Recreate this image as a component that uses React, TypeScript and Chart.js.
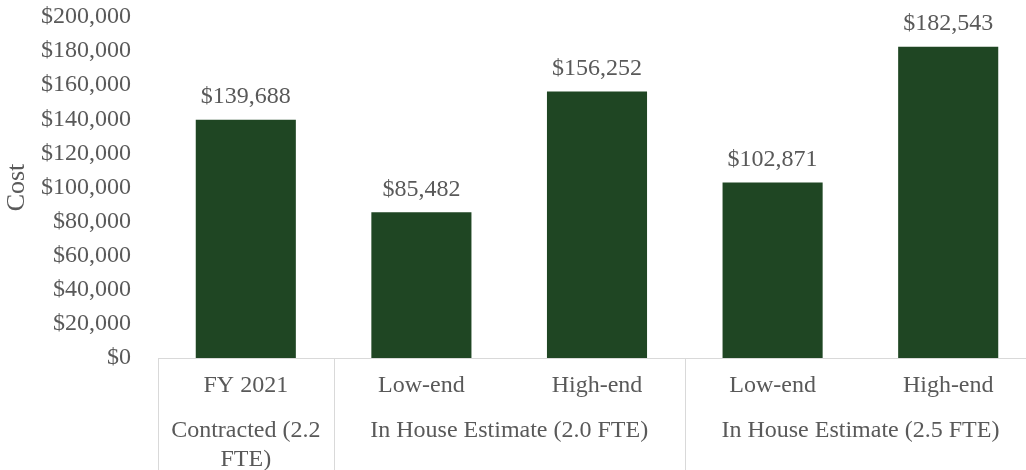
import React, { useEffect, useRef } from "react";
import { Chart, registerables } from "chart.js";

Chart.register(...registerables);

const categories = ["FY 2021", "Low-end", "High-end", "Low-end", "High-end"];
const groupLabels = [["Contracted (2.2", "FTE)"], ["In House Estimate (2.0 FTE)"], ["In House Estimate (2.5 FTE)"]];
const groupSpans = [[0, 0], [1, 2], [3, 4]];
const costs = [139688, 85482, 156252, 102871, 182543];
const yTicks = { min: 0, max: 200000, step: 20000 };

const FONT = "'Liberation Serif', 'Times New Roman', serif";
const FS = 24;
const TEXT = "#595959";
const LINE = "#D9D9D9";
const BAR = "#1F4623";

const money = (v: number) => "$" + v.toLocaleString("en-US");

const overlay = {
  id: "overlay",
  afterDatasetsDraw(chart: any) {
    const ctx = chart.ctx;
    const meta = chart.getDatasetMeta(0);
    ctx.save();
    ctx.font = `${FS}px ${FONT}`;
    ctx.fillStyle = TEXT;
    ctx.textAlign = "center";
    ctx.textBaseline = "middle";
    meta.data.forEach((bar: any, i: number) => {
      ctx.fillText(money(costs[i]), bar.x, bar.y - 23);
    });
    ctx.restore();
  },
  afterDraw(chart: any) {
    const ctx = chart.ctx;
    const x = chart.scales.x;
    const area = chart.chartArea;
    const half = (x.getPixelForValue(1) - x.getPixelForValue(0)) / 2;
    ctx.save();
    ctx.strokeStyle = LINE;
    ctx.lineWidth = 1;
    ctx.beginPath();
    ctx.moveTo(area.left, Math.round(area.bottom) + 0.5);
    ctx.lineTo(area.right, Math.round(area.bottom) + 0.5);
    ctx.stroke();
    const seps = [x.getPixelForValue(0) - half];
    groupSpans.forEach((s) => seps.push(x.getPixelForValue(s[1]) + half));
    seps.forEach((px) => {
      ctx.beginPath();
      ctx.moveTo(Math.round(px) + 0.5, area.bottom);
      ctx.lineTo(Math.round(px) + 0.5, chart.height);
      ctx.stroke();
    });
    ctx.font = `${FS}px ${FONT}`;
    ctx.fillStyle = TEXT;
    ctx.textAlign = "center";
    ctx.textBaseline = "middle";
    groupSpans.forEach((s, gi) => {
      const cx = (x.getPixelForValue(s[0]) + x.getPixelForValue(s[1])) / 2;
      groupLabels[gi].forEach((line, li) => {
        ctx.fillText(line, cx, area.bottom + 73 + li * 29);
      });
    });
    ctx.restore();
  },
};

export default function App() {
  const ref = useRef<HTMLCanvasElement>(null);
  useEffect(() => {
    const chart = new Chart(ref.current!, {
      type: "bar",
      data: {
        labels: categories,
        datasets: [
          {
            data: costs,
            backgroundColor: BAR,
            barPercentage: 0.57,
            categoryPercentage: 1,
          },
        ],
      },
      options: {
        animation: false,
        responsive: false,
        maintainAspectRatio: false,
        layout: { padding: { top: 17, right: 0, left: 0, bottom: 0 } },
        plugins: { legend: { display: false }, tooltip: { enabled: false } },
        scales: {
          x: {
            grid: { display: false, drawTicks: false },
            border: { display: false },
            ticks: { color: TEXT, font: { family: FONT, size: FS }, padding: 13, maxRotation: 0, autoSkip: false },
            afterFit: (s: any) => { s.height = 112; s.paddingLeft = 0; s.paddingRight = 0; },
          },
          y: {
            min: yTicks.min,
            max: yTicks.max,
            grid: { display: false, drawTicks: false },
            border: { display: false },
            ticks: {
              stepSize: yTicks.step,
              autoSkip: false,
              color: TEXT,
              font: { family: FONT, size: FS },
              padding: 27,
              callback: (v: any) => money(Number(v)),
            },
            title: { display: true, text: "Cost", color: TEXT, font: { family: FONT, size: 26 }, padding: { top: 2, bottom: 0 } },
            afterFit: (s: any) => { s.width = 158; s.paddingTop = 0; s.paddingBottom = 0; },
          },
        },
      },
      plugins: [overlay],
    });
    return () => chart.destroy();
  }, []);
  return (
    <div style={{ position: "fixed", left: 0, top: 0, width: 1026, height: 470, overflow: "hidden", background: "#fff" }}>
      <canvas ref={ref} width={1036} height={470} style={{ display: "block", width: 1036, height: 470 }} />
    </div>
  );
}
